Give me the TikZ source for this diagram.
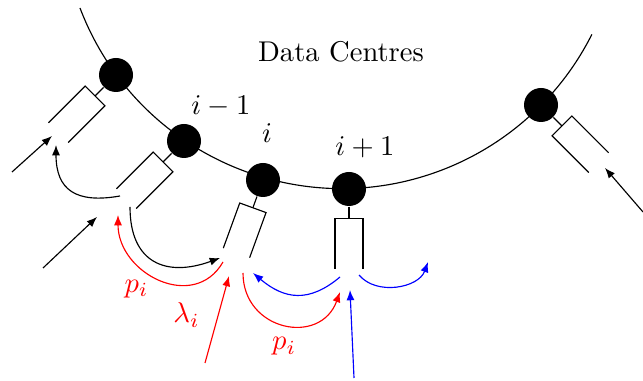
\documentclass[tikz,border=0pt]{standalone}
\usetikzlibrary{arrows.meta}
\tikzset{dc/.style={circle,fill=black,minimum size=11.9pt,inner sep=0pt},flow/.style={-{Latex[length=3.6pt,width=2.8pt]}},pics/buffer/.style={code={\draw (0,0)--(12,0); \draw (#1,14)--(12,14)--(12,-14)--(#1,-14);}},pics/buffer/.default=64}

\begin{document}
\begin{tikzpicture}[x=0.35pt,y=0.35pt]
\useasboundingbox (0,0) rectangle (643,-381);
% ring of data centres
\draw (80,-8) arc[start angle=-159.2,end angle=-26.7,radius=280];
\node[dc] (n1) at (116,-75) {};
\node[dc] (n2) at (184,-141) {};
\node[dc] (n3) at (263,-180) {};
\node[dc] (n4) at (349,-189) {};
\node[dc] (n5) at (541,-105) {};
\node (title) at (341,-52) {Data Centres};
\node (lab2) at (221,-106) {$i-1$};
\node (lab3) at (267,-133) {$i$};
\node (lab4) at (365,-147) {$i+1$};
% queues
\pic[rotate=-135] at (n1.-135) {buffer};
\pic[rotate=-135] at (n2.-135) {buffer};
\pic[rotate=-110] at (n3.-110) {buffer=60};
\pic[rotate=-90] at (n4.-90) {buffer=62};
\pic[rotate=-45] at (n5.-45) {buffer};
% arrow ends
\coordinate (s1) at (12,-172); \coordinate (q1) at (52,-136);
\coordinate (s2) at (43,-268); \coordinate (q2) at (97,-217);
\coordinate (q1b) at (56,-145); \coordinate (q2a) at (120,-196); \coordinate (q2b) at (130,-207);
\coordinate (q2c) at (118,-215); \coordinate (q3a) at (220,-258); \coordinate (q3b) at (223,-262);
\coordinate (q3c) at (243,-273); \coordinate (q3d) at (253,-273); \coordinate (s3) at (205,-363); \coordinate (q3e) at (229,-276);
\coordinate (q4a) at (340,-277); \coordinate (q4b) at (340,-292); \coordinate (q4c) at (359,-275);
\coordinate (s4) at (354,-378); \coordinate (q4d) at (350,-290); \coordinate (q5a) at (428,-262);
\coordinate (s5) at (643,-212); \coordinate (q5) at (605,-168);
% flows
\draw[flow] (s1)--(q1); \draw[flow] (s2)--(q2); \draw[flow] (s5)--(q5);
\draw[flow] (q2a) to[out=190,in=-90,looseness=1.4] (q1b);
\draw[flow] (q2b) to[out=-90,in=200,looseness=1.4] (q3a);
\draw[flow,red] (q3b) to[out=-120,in=-90,looseness=1.3] node[pos=0.55,below left=-2pt] {$p_i$} (q2c);
\draw[flow,red] (s3) -- node[pos=0.55,left=3pt] {$\lambda_i$} (q3e);
\draw[flow,red] (q3c) to[out=-90,in=-110,looseness=1.5] node[below=1pt] {$p_i$} (q4b);
\draw[flow,blue] (q4a) to[out=-140,in=-40,looseness=1.2] (q3d);
\draw[flow,blue] (q4c) to[out=-50,in=-110] (q5a);
\draw[flow,blue] (s4) -- (q4d);
\end{tikzpicture}
\end{document}
